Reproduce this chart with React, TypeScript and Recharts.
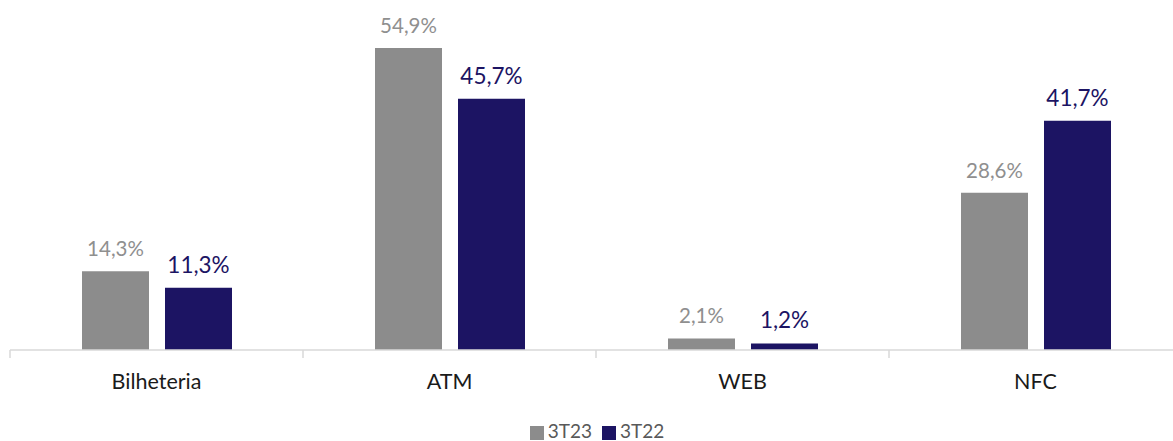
import React from 'react';
import { BarChart, Bar, XAxis, YAxis, Legend, LabelList } from 'recharts';

const categories = ['Bilheteria', 'ATM', 'WEB', 'NFC'];
const series3T23 = [14.3, 54.9, 2.1, 28.6];
const series3T22 = [11.3, 45.7, 1.2, 41.7];
const seriesNames = ['3T23', '3T22'];

const data = categories.map((c, i) => ({ name: c, a: series3T23[i], b: series3T22[i] }));

const GRAY = '#8c8c8c';
const NAVY = '#1c1463';
const FONT = 'Lato, "Liberation Sans", sans-serif';

const fmt = (v: any) => `${Number(v).toFixed(1).replace('.', ',')}%`;

const CatTick = (props: any) => {
  const { x, y, payload, width, visibleTicksCount } = props;
  const band = (width || 1172) / (visibleTicksCount || 4);
  const left = x - band / 2;
  return (
    <g>
      <line x1={left} x2={left} y1={y} y2={y + 8} stroke="#d9d9d9" strokeWidth={1.5} />
      <text x={x} y={y + 39} textAnchor="middle" fill="#1a1a1a" fontSize={21.5} fontFamily={FONT}>
        {payload.value}
      </text>
    </g>
  );
};

const order: Record<string, number> = { a: 0, b: 1 };

export default function App() {
  return (
    <div style={{ position: 'absolute', left: 0, top: 0, width: 1173, height: 441, overflow: 'hidden', background: '#fff' }}>
      <BarChart
        width={1210}
        height={441}
        data={data}
        margin={{ top: 20, right: 28, left: 10, bottom: 0 }}
        barSize={67}
        barGap={16}
      >
        <XAxis
          dataKey="name"
          tick={<CatTick />}
          tickLine={false}
          tickSize={0}
          tickMargin={0}
          axisLine={{ stroke: '#d9d9d9', strokeWidth: 1.5 }}
          height={71}
          interval={0}
        />
        <YAxis hide domain={[0, 60]} />
        <Legend
          verticalAlign="bottom"
          align="center"
          iconType="square"
          iconSize={14}
          itemSorter={(item: any) => order[item.dataKey] ?? 0}
          wrapperStyle={{ fontFamily: FONT, fontSize: 19, lineHeight: '20px', marginLeft: 6 }}
          formatter={(value: any) => (
            <span style={{ color: '#595959', fontSize: 19, fontFamily: FONT }}>{value}</span>
          )}
        />
        <Bar dataKey="a" name={seriesNames[0]} fill={GRAY} isAnimationActive={false}>
          <LabelList dataKey="a" position="top" offset={15} formatter={fmt} fill="#8f8f8f" fontSize={20.5} fontFamily={FONT} />
        </Bar>
        <Bar dataKey="b" name={seriesNames[1]} fill={NAVY} isAnimationActive={false}>
          <LabelList dataKey="b" position="top" offset={15} formatter={fmt} fill={NAVY} fontSize={22.5} fontFamily={FONT} />
        </Bar>
      </BarChart>
    </div>
  );
}
